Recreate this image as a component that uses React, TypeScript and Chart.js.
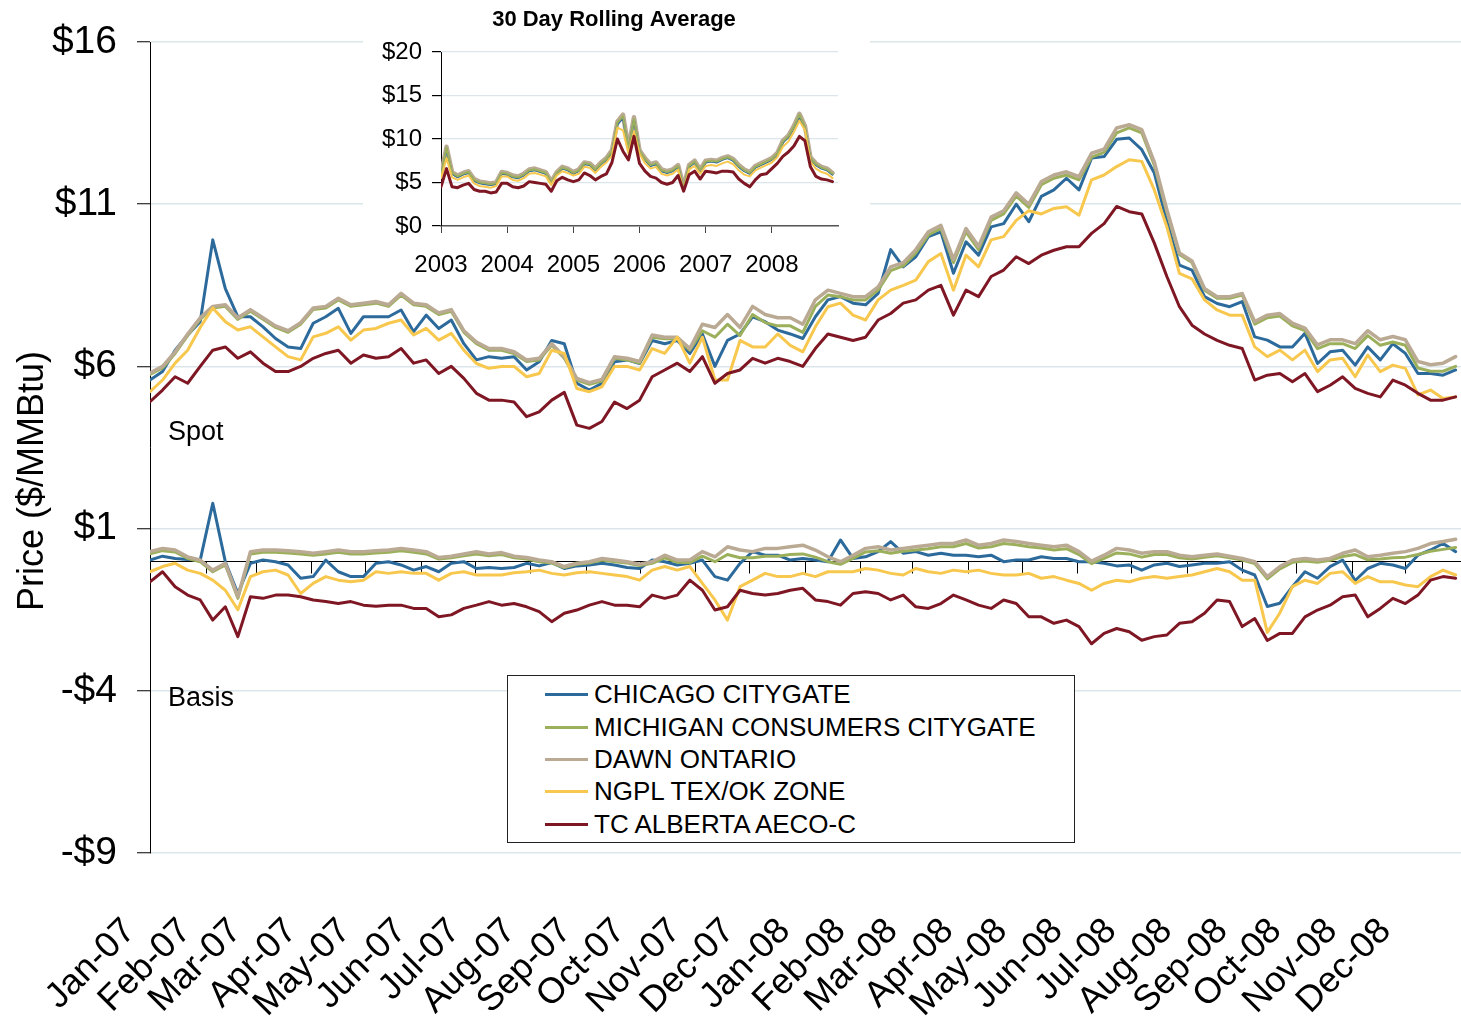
import React, { useEffect, useRef } from 'react';
import { Chart, registerables } from 'chart.js';

Chart.register(...registerables);

const FONT = "'Liberation Sans', Arial, Helvetica, sans-serif";
Chart.defaults.font.family = FONT;

// ---------- categories / ticks ----------
const monthLabels = [
  'Jan-07', 'Feb-07', 'Mar-07', 'Apr-07', 'May-07', 'Jun-07', 'Jul-07', 'Aug-07', 'Sep-07', 'Oct-07', 'Nov-07', 'Dec-07',
  'Jan-08', 'Feb-08', 'Mar-08', 'Apr-08', 'May-08', 'Jun-08', 'Jul-08', 'Aug-08', 'Sep-08', 'Oct-08', 'Nov-08', 'Dec-08',
];
// day offsets (from 1 Jan 2007) of each month start
const monthStartDays = [0, 31, 59, 90, 120, 151, 181, 212, 243, 273, 304, 334, 365, 396, 425, 456, 486, 517, 547, 578, 609, 639, 670, 700];
const yTickValues = [-9, -4, 1, 6, 11, 16];
const insetYears = [2003, 2004, 2005, 2006, 2007, 2008];
const insetYTicks = [0, 5, 10, 15, 20];

const seriesNames = ['CHICAGO CITYGATE', 'MICHIGAN CONSUMERS CITYGATE', 'DAWN ONTARIO', 'NGPL TEX/OK ZONE', 'TC ALBERTA AECO-C'];
const seriesColors = ['#2C6A9C', '#9CB05C', '#BAAA94', '#F8C84E', '#7E1723'];

// weekly sample dates (days since 1 Jan 2007)
const weekDays = Array.from({ length: 105 }, (_, i) => i * 7);
// monthly sample dates for the inset (fractional years)
const insetMonths = Array.from({ length: 72 }, (_, i) => 2003 + i / 12);

// ---------- spot prices ($/MMBtu), weekly ----------
const chicagoSpot = [
  5.58, 5.84, 6.5, 6.97, 7.38, 9.9, 8.4, 7.53, 7.53, 7.22,
  6.86, 6.6, 6.55, 7.33, 7.53, 7.79, 7.02, 7.53, 7.53, 7.53,
  7.74, 7.07, 7.58, 7.17, 7.43, 6.7, 6.2, 6.3, 6.25, 6.3,
  5.89, 6.14, 6.8, 6.7, 5.48, 5.27, 5.48, 6.14, 6.2, 6.09,
  6.8, 6.7, 6.8, 6.4, 7.0, 6.0, 6.8, 7.0, 7.53, 7.38,
  7.12, 7.0, 6.86, 7.53, 8.05, 8.15, 7.95, 7.9, 8.25, 9.6,
  9.07, 9.38, 10.0, 10.15, 8.87, 9.84, 9.43, 10.3, 10.4, 11.0,
  10.46, 11.24, 11.44, 11.8, 11.44, 12.42, 12.47, 13.0, 13.04, 12.68,
  11.96, 10.46, 9.12, 8.97, 8.15, 7.94, 7.84, 8.0, 6.91, 6.81,
  6.6, 6.6, 7.02, 6.09, 6.45, 6.5, 6.04, 6.6, 6.2, 6.7,
  6.4, 5.78, 5.78, 5.73, 5.89,
];
const michiganSpot = [
  5.75, 5.95, 6.4, 6.95, 7.45, 7.8, 7.85, 7.45, 7.7, 7.45,
  7.2, 7.05, 7.3, 7.75, 7.8, 8.05, 7.85, 7.9, 7.95, 7.85,
  8.2, 7.9, 7.85, 7.6, 7.7, 7.05, 6.7, 6.5, 6.5, 6.4,
  6.15, 6.2, 6.65, 6.25, 5.58, 5.45, 5.55, 6.25, 6.2, 6.1,
  6.9, 6.85, 6.85, 6.5, 7.1, 6.9, 7.3, 6.95, 7.6, 7.35,
  7.25, 7.25, 7.05, 7.85, 8.2, 8.15, 8.05, 8.05, 8.35, 8.95,
  9.1, 9.5, 10.05, 10.25, 9.2, 10.15, 9.6, 10.5, 10.7, 11.25,
  10.9, 11.6, 11.8, 11.9, 11.75, 12.45, 12.6, 13.2, 13.35, 13.2,
  12.2, 10.75, 9.45, 9.2, 8.35, 8.1, 8.1, 8.2, 7.3, 7.5,
  7.55, 7.25, 7.1, 6.55, 6.7, 6.7, 6.55, 6.95, 6.65, 6.75,
  6.65, 5.95, 5.85, 5.85, 6.0,
];
const dawnSpot = [
  5.8, 6.0, 6.45, 7.0, 7.5, 7.85, 7.9, 7.5, 7.75, 7.5,
  7.25, 7.1, 7.35, 7.8, 7.85, 8.1, 7.9, 7.95, 8.0, 7.9,
  8.25, 7.95, 7.9, 7.65, 7.75, 7.1, 6.75, 6.55, 6.55, 6.45,
  6.2, 6.25, 6.7, 6.3, 5.63, 5.5, 5.6, 6.3, 6.25, 6.15,
  6.97, 6.9, 6.9, 6.55, 7.3, 7.2, 7.6, 7.2, 7.85, 7.6,
  7.5, 7.5, 7.3, 8.05, 8.35, 8.25, 8.15, 8.15, 8.45, 9.07,
  9.2, 9.6, 10.15, 10.35, 9.3, 10.25, 9.7, 10.6, 10.8, 11.35,
  11.0, 11.7, 11.9, 12.0, 11.85, 12.57, 12.7, 13.35, 13.45, 13.3,
  12.3, 10.83, 9.5, 9.25, 8.4, 8.15, 8.15, 8.25, 7.38, 7.58,
  7.63, 7.33, 7.18, 6.66, 6.82, 6.82, 6.7, 7.1, 6.82, 6.92,
  6.82, 6.15, 6.05, 6.1, 6.3,
];
const ngplSpot = [
  5.22, 5.58, 6.1, 6.5, 7.2, 7.8, 7.38, 7.12, 7.22, 6.91,
  6.6, 6.3, 6.2, 6.91, 7.02, 7.22, 6.81, 7.12, 7.17, 7.33,
  7.43, 6.97, 7.17, 6.81, 7.02, 6.5, 6.09, 5.94, 6.0, 6.0,
  5.68, 5.78, 6.5, 6.4, 5.32, 5.22, 5.37, 6.0, 6.0, 5.89,
  6.55, 6.4, 6.9, 6.1, 6.9, 5.58, 5.58, 6.8, 6.6, 6.6,
  7.0, 6.65, 6.45, 7.22, 7.84, 7.95, 7.58, 7.43, 8.05, 8.35,
  8.5, 8.66, 9.23, 9.48, 8.35, 9.43, 9.07, 9.9, 10.0, 10.5,
  10.8, 10.7, 10.87, 10.92, 10.66, 11.75, 11.9, 12.16, 12.37, 12.32,
  11.44, 10.3, 8.87, 8.7, 8.05, 7.74, 7.58, 7.58, 6.6, 6.3,
  6.5, 6.2, 6.5, 5.84, 6.2, 6.25, 5.68, 6.35, 5.84, 6.04,
  5.94, 5.12, 5.27, 5.01, 5.06,
];
const albertaSpot = [
  4.91, 5.27, 5.68, 5.48, 6.0, 6.5, 6.6, 6.25, 6.45, 6.1,
  5.84, 5.84, 6.0, 6.25, 6.4, 6.5, 6.1, 6.35, 6.25, 6.3,
  6.55, 6.1, 6.2, 5.78, 6.0, 5.63, 5.17, 4.96, 4.96, 4.9,
  4.45, 4.6, 4.96, 5.2, 4.19, 4.09, 4.3, 4.9, 4.7, 4.96,
  5.68, 5.89, 6.1, 5.84, 6.3, 5.48, 5.78, 5.89, 6.25, 6.1,
  6.25, 6.15, 6.0, 6.55, 7.0, 6.9, 6.8, 6.9, 7.43, 7.63,
  7.95, 8.05, 8.35, 8.5, 7.58, 8.35, 8.15, 8.77, 8.97, 9.38,
  9.17, 9.43, 9.58, 9.69, 9.69, 10.1, 10.4, 10.93, 10.77, 10.7,
  9.8, 8.77, 7.84, 7.27, 7.0, 6.8, 6.65, 6.55, 5.58, 5.73,
  5.78, 5.53, 5.78, 5.22, 5.42, 5.68, 5.32, 5.17, 5.06, 5.58,
  5.42, 5.17, 4.96, 4.96, 5.06,
];

// ---------- basis ($/MMBtu), weekly ----------
const chicagoBasis = [
  0.03, 0.15, 0.08, 0.05, 0.03, 1.78, -0.02, -1.0, -0.07, 0.03,
  -0.02, -0.12, -0.53, -0.48, 0.03, -0.33, -0.48, -0.48, -0.07, -0.02,
  -0.12, -0.28, -0.17, -0.33, -0.07, -0.02, -0.23, -0.2, -0.23, -0.2,
  -0.07, -0.15, -0.05, -0.23, -0.15, -0.12, -0.07, -0.12, -0.2, -0.23,
  0.03, -0.02, -0.12, -0.07, 0.03, -0.48, -0.59, -0.07, 0.29, 0.18,
  0.18, 0.03, 0.08, 0.03, -0.02, 0.65, 0.08, 0.13, 0.29, 0.6,
  0.24, 0.29, 0.18, 0.24, 0.18, 0.18, 0.13, 0.18, -0.02, 0.03,
  0.03, 0.13, 0.08, 0.08, -0.02, -0.02, -0.07, -0.15, -0.12, -0.28,
  -0.12, -0.07, -0.17, -0.12, -0.07, -0.07, -0.02, -0.28, -0.43, -1.4,
  -1.3, -0.79, -0.33, -0.53, -0.17, 0.03, -0.6, -0.23, -0.07, -0.12,
  -0.23, 0.18, 0.34, 0.54, 0.29,
];
const michiganBasis = [
  0.22, 0.32, 0.28, 0.08, -0.02, -0.33, -0.12, -1.15, 0.22, 0.27,
  0.27, 0.25, 0.22, 0.18, 0.22, 0.27, 0.22, 0.22, 0.25, 0.27,
  0.32, 0.27, 0.22, 0.06, 0.1, 0.16, 0.22, 0.16, 0.2, 0.1,
  0.06, -0.02, -0.06, -0.2, -0.1, -0.06, 0.03, -0.02, -0.06, -0.14,
  -0.07, 0.1, -0.04, -0.05, 0.15, -0.02, 0.2, 0.1, 0.1, 0.15,
  0.15, 0.2, 0.22, 0.12, -0.02, -0.1, 0.08, 0.28, 0.32, 0.24,
  0.3, 0.34, 0.38, 0.44, 0.44, 0.54, 0.4, 0.44, 0.54, 0.5,
  0.44, 0.4, 0.34, 0.38, 0.2, -0.08, 0.08, 0.25, 0.22, 0.12,
  0.2, 0.2, 0.1, 0.06, 0.12, 0.16, 0.1, 0.03, -0.08, -0.55,
  -0.24, -0.04, 0.0, -0.04, 0.02, 0.14, 0.2, 0.04, 0.06, 0.1,
  0.12, 0.2, 0.3, 0.36, 0.42,
];
const dawnBasis = [
  0.29, 0.39, 0.34, 0.13, 0.03, -0.28, -0.07, -1.1, 0.29, 0.34,
  0.34, 0.32, 0.29, 0.24, 0.29, 0.34, 0.29, 0.29, 0.32, 0.34,
  0.39, 0.34, 0.29, 0.11, 0.15, 0.22, 0.29, 0.22, 0.26, 0.15,
  0.11, 0.03, -0.02, -0.17, -0.07, -0.02, 0.08, 0.03, -0.02, -0.1,
  -0.02, 0.18, 0.03, 0.03, 0.29, 0.13, 0.44, 0.34, 0.29, 0.39,
  0.39, 0.44, 0.49, 0.34, 0.13, -0.02, 0.18, 0.39, 0.44, 0.34,
  0.39, 0.44, 0.49, 0.54, 0.54, 0.65, 0.49, 0.54, 0.65, 0.6,
  0.54, 0.49, 0.44, 0.49, 0.29, 0.0, 0.18, 0.39, 0.34, 0.24,
  0.29, 0.29, 0.18, 0.13, 0.18, 0.22, 0.15, 0.08, -0.02, -0.48,
  -0.17, 0.03, 0.08, 0.03, 0.08, 0.24, 0.34, 0.13, 0.18, 0.24,
  0.29, 0.39, 0.54, 0.6, 0.67,
];
const ngplBasis = [
  -0.33, -0.17, -0.07, -0.28, -0.38, -0.59, -0.9, -1.5, -0.48, -0.33,
  -0.28, -0.43, -1.0, -0.69, -0.48, -0.59, -0.64, -0.59, -0.33, -0.38,
  -0.33, -0.38, -0.38, -0.59, -0.38, -0.33, -0.43, -0.43, -0.43, -0.36,
  -0.33, -0.28, -0.38, -0.43, -0.36, -0.33, -0.38, -0.43, -0.48, -0.59,
  -0.28, -0.17, -0.28, -0.17, -0.69, -1.2, -1.82, -0.79, -0.59, -0.38,
  -0.48, -0.48, -0.38, -0.48, -0.33, -0.33, -0.33, -0.23, -0.28, -0.38,
  -0.43, -0.23, -0.33, -0.38, -0.28, -0.33, -0.28, -0.38, -0.43, -0.43,
  -0.38, -0.53, -0.48, -0.59, -0.69, -0.9, -0.69, -0.59, -0.64, -0.53,
  -0.48, -0.53, -0.48, -0.43, -0.33, -0.23, -0.33, -0.59, -0.59, -2.2,
  -1.6, -0.79, -0.59, -0.69, -0.38, -0.33, -0.69, -0.48, -0.64, -0.64,
  -0.74, -0.79, -0.48, -0.28, -0.43,
];
const albertaBasis = [
  -0.64, -0.33, -0.79, -1.05, -1.2, -1.82, -1.41, -2.33, -1.1, -1.15,
  -1.05, -1.05, -1.1, -1.2, -1.25, -1.31, -1.25, -1.36, -1.39, -1.36,
  -1.36, -1.46, -1.46, -1.72, -1.66, -1.46, -1.36, -1.25, -1.36, -1.31,
  -1.41, -1.56, -1.87, -1.61, -1.51, -1.36, -1.25, -1.36, -1.36, -1.41,
  -1.05, -1.15, -1.05, -0.59, -0.9, -1.51, -1.41, -0.9, -1.0, -1.05,
  -1.0, -0.9, -0.84, -1.2, -1.25, -1.36, -1.0, -0.95, -1.0, -1.2,
  -1.05, -1.41, -1.46, -1.31, -1.05, -1.2, -1.36, -1.46, -1.2, -1.31,
  -1.72, -1.72, -1.92, -1.82, -2.02, -2.55, -2.23, -2.08, -2.18, -2.44,
  -2.33, -2.28, -1.92, -1.87, -1.61, -1.2, -1.25, -2.02, -1.77, -2.45,
  -2.23, -2.23, -1.72, -1.51, -1.36, -1.1, -1.05, -1.72, -1.46, -1.15,
  -1.31, -1.05, -0.59, -0.48, -0.53,
];

// ---------- inset: 30 day rolling average, monthly 2003-2008 ----------
const chicagoAvg = [
  5.7, 8.8, 6.0, 5.6, 5.9, 6.1, 5.2, 4.9, 4.8, 4.7, 4.8, 6.0,
  5.9, 5.6, 5.5, 5.8, 6.3, 6.4, 6.2, 6.0, 4.9, 6.0, 6.6, 6.4,
  6.0, 6.3, 7.1, 7.0, 6.4, 7.1, 7.6, 8.5, 11.7, 12.4, 8.8, 12.2,
  8.5, 7.6, 6.9, 7.1, 6.3, 6.1, 6.3, 6.8, 4.3, 6.8, 7.3, 6.3,
  7.3, 7.4, 7.3, 7.6, 7.8, 7.5, 6.8, 6.3, 6.0, 6.7, 7.0, 7.3,
  7.6, 8.2, 9.6, 10.2, 11.3, 12.6, 11.2, 7.7, 7.0, 6.6, 6.4, 5.9,
];
const michiganAvg = [
  5.8, 9.0, 6.1, 5.7, 6.0, 6.2, 5.3, 5.0, 4.9, 4.8, 4.9, 6.1,
  6.0, 5.7, 5.6, 5.9, 6.4, 6.5, 6.3, 6.1, 5.0, 6.1, 6.7, 6.5,
  6.1, 6.4, 7.2, 7.1, 6.5, 7.2, 7.7, 8.6, 11.9, 12.6, 8.9, 12.3,
  8.6, 7.7, 7.0, 7.2, 6.4, 6.2, 6.4, 6.9, 4.4, 6.9, 7.4, 6.4,
  7.4, 7.5, 7.4, 7.7, 7.9, 7.6, 6.9, 6.4, 6.1, 6.8, 7.1, 7.4,
  7.7, 8.3, 9.7, 10.3, 11.4, 12.8, 11.4, 7.8, 7.1, 6.7, 6.5, 6.0,
];
const dawnAvg = [
  5.9, 9.1, 6.2, 5.8, 6.1, 6.3, 5.4, 5.1, 5.0, 4.9, 5.0, 6.2,
  6.1, 5.8, 5.7, 6.0, 6.5, 6.6, 6.4, 6.2, 5.1, 6.2, 6.8, 6.6,
  6.2, 6.5, 7.3, 7.2, 6.6, 7.3, 7.8, 8.7, 12.0, 12.8, 9.0, 12.5,
  8.7, 7.8, 7.1, 7.3, 6.5, 6.3, 6.5, 7.0, 4.5, 7.0, 7.5, 6.5,
  7.5, 7.6, 7.5, 7.8, 8.0, 7.7, 7.0, 6.5, 6.2, 6.9, 7.2, 7.5,
  7.8, 8.4, 9.8, 10.4, 11.5, 12.9, 11.5, 7.9, 7.2, 6.8, 6.6, 6.1,
];
const ngplAvg = [
  5.5, 7.8, 5.6, 5.3, 5.6, 5.8, 4.9, 4.6, 4.5, 4.4, 4.6, 5.7,
  5.7, 5.3, 5.2, 5.5, 6.0, 6.1, 5.9, 5.7, 4.7, 5.8, 6.3, 6.1,
  5.8, 6.0, 6.8, 6.7, 6.1, 6.8, 7.3, 8.1, 11.3, 11.0, 8.3, 10.9,
  8.3, 7.2, 6.6, 6.8, 6.0, 5.8, 6.0, 6.5, 4.1, 6.5, 6.9, 6.0,
  6.9, 7.0, 6.9, 7.2, 7.4, 7.1, 6.4, 5.9, 5.7, 6.4, 6.7, 7.0,
  7.3, 7.9, 9.1, 9.7, 10.8, 12.1, 11.0, 7.4, 6.6, 6.2, 6.0, 5.5,
];
const albertaAvg = [
  4.5, 6.6, 4.5, 4.4, 4.7, 4.9, 4.2, 4.0, 4.0, 3.8, 3.9, 4.9,
  4.9, 4.5, 4.4, 4.6, 5.1, 5.0, 4.9, 4.8, 4.0, 5.2, 5.6, 5.3,
  5.1, 5.3, 6.1, 5.8, 5.3, 5.7, 6.0, 7.3, 10.0, 8.6, 7.6, 10.3,
  7.2, 6.3, 5.7, 5.5, 5.0, 4.8, 5.0, 5.8, 4.0, 5.9, 6.3, 5.4,
  6.3, 6.2, 6.1, 6.3, 6.3, 6.2, 5.4, 4.9, 4.5, 5.3, 5.9, 6.0,
  6.6, 7.2, 8.0, 8.5, 9.2, 10.3, 9.8, 6.8, 5.7, 5.4, 5.3, 5.1,
];

const spotSeries = [chicagoSpot, michiganSpot, dawnSpot, ngplSpot, albertaSpot];
const basisSeries = [chicagoBasis, michiganBasis, dawnBasis, ngplBasis, albertaBasis];
const avgSeries = [chicagoAvg, michiganAvg, dawnAvg, ngplAvg, albertaAvg];

const mainWidths = [3, 3, 3.5, 3, 3];
const insetWidths = [2, 2, 4.5, 2, 3];
const drawOrder = [5, 4, 3, 2, 1];
const insetOrder = [4, 3, 5, 2, 1];

const mainDecor = {
  id: 'mainDecor',
  beforeDatasetsDraw(chart: any) {
    const { ctx, chartArea, scales } = chart;
    const y0 = Math.round(scales.y.getPixelForValue(0)) + 0.5;
    ctx.save();
    ctx.strokeStyle = '#000';
    ctx.lineWidth = 1;
    ctx.beginPath();
    ctx.moveTo(chartArea.left, y0);
    ctx.lineTo(chartArea.right, y0);
    monthStartDays.forEach((d) => {
      const x = Math.round(scales.x.getPixelForValue(d)) + 0.5;
      ctx.moveTo(x, y0);
      ctx.lineTo(x, y0 + 12);
    });
    ctx.stroke();
    ctx.restore();
  },
  afterDraw(chart: any) {
    const { ctx } = chart;
    ctx.save();
    ctx.fillStyle = '#000';
    ctx.font = `27px ${FONT}`;
    ctx.textAlign = 'left';
    ctx.textBaseline = 'alphabetic';
    ctx.fillText('Spot', 168, 440);
    ctx.fillText('Basis', 168, 706);
    ctx.translate(33, 481);
    ctx.rotate(-Math.PI / 2);
    ctx.font = `36px ${FONT}`;
    ctx.textAlign = 'center';
    ctx.textBaseline = 'middle';
    ctx.fillText('Price ($/MMBtu)', 0, 0);
    ctx.restore();
  },
};

const insetDecor = {
  id: 'insetDecor',
  afterDraw(chart: any) {
    const { ctx } = chart;
    ctx.save();
    ctx.fillStyle = '#000';
    ctx.font = `bold 22px ${FONT}`;
    ctx.textAlign = 'center';
    ctx.textBaseline = 'middle';
    ctx.fillText('30 Day Rolling Average', 251, 20);
    ctx.restore();
  },
};

export default function App() {
  const mainRef = useRef<HTMLCanvasElement>(null);
  const insetRef = useRef<HTMLCanvasElement>(null);

  useEffect(() => {
    document.body.style.margin = '0';
    const spotSets = spotSeries.map((arr, s) => ({
      label: seriesNames[s] + ' spot',
      data: weekDays.map((d, i) => ({ x: d, y: arr[i] })),
      borderColor: seriesColors[s],
      borderWidth: mainWidths[s],
      order: drawOrder[s],
    }));
    const basisSets = basisSeries.map((arr, s) => ({
      label: seriesNames[s] + ' basis',
      data: weekDays.map((d, i) => ({ x: d, y: arr[i] })),
      borderColor: seriesColors[s],
      borderWidth: mainWidths[s],
      order: drawOrder[s],
    }));

    const main = new Chart(mainRef.current as HTMLCanvasElement, {
      type: 'line',
      data: { datasets: [...spotSets, ...basisSets] as any },
      options: {
        responsive: false,
        animation: false,
        devicePixelRatio: 1,
        layout: { padding: { top: 42, left: 0, right: 0, bottom: 0 } },
        plugins: { legend: { display: false }, tooltip: { enabled: false } },
        elements: {
          point: { radius: 0 },
          line: { tension: 0, borderJoinStyle: 'round', borderCapStyle: 'round', fill: false },
        },
        scales: {
          x: {
            type: 'linear',
            min: 0,
            max: 731,
            grid: { display: false, drawTicks: false },
            border: { display: false },
            afterBuildTicks: (s: any) => {
              s.ticks = monthStartDays.map((v) => ({ value: v }));
            },
            afterFit: (s: any) => {
              s.height = 163;
              s.paddingLeft = 0;
              s.paddingRight = 0;
            },
            ticks: {
              autoSkip: false,
              minRotation: 45,
              maxRotation: 45,
              padding: 57,
              labelOffset: -20,
              color: '#000',
              font: { family: FONT, size: 36 },
              callback: (_v: any, i: number) => monthLabels[i],
            },
          },
          y: {
            type: 'linear',
            min: -9,
            max: 16,
            afterBuildTicks: (s: any) => {
              s.ticks = yTickValues.map((v) => ({ value: v }));
            },
            afterFit: (s: any) => {
              s.width = 150;
              s.paddingTop = 0;
              s.paddingBottom = 0;
            },
            grid: { color: '#dbe5ea', lineWidth: 1.5, tickColor: '#000', tickLength: 13, tickWidth: 1 },
            border: { color: '#000', width: 1 },
            ticks: {
              padding: 20,
              color: '#000',
              font: { family: FONT, size: 39 },
              callback: (v: any) => (Number(v) < 0 ? '-$' : '$') + Math.abs(Number(v)),
            },
          },
        },
      } as any,
      plugins: [mainDecor],
    });

    const insetSets = avgSeries.map((arr, s) => ({
      label: seriesNames[s],
      data: insetMonths.map((m, i) => ({ x: m, y: arr[i] })),
      borderColor: seriesColors[s],
      borderWidth: insetWidths[s],
      order: insetOrder[s],
    }));

    const inset = new Chart(insetRef.current as HTMLCanvasElement, {
      type: 'line',
      data: { datasets: insetSets as any },
      options: {
        responsive: false,
        animation: false,
        devicePixelRatio: 1,
        layout: { padding: { top: 52, left: 0, right: 32, bottom: 0 } },
        plugins: { legend: { display: false }, tooltip: { enabled: false } },
        elements: {
          point: { radius: 0 },
          line: { tension: 0, borderJoinStyle: 'round', borderCapStyle: 'round', fill: false },
        },
        scales: {
          x: {
            type: 'linear',
            min: 2003,
            max: 2009,
            afterBuildTicks: (s: any) => {
              s.ticks = insetYears.map((v) => ({ value: v }));
            },
            afterFit: (s: any) => {
              s.height = 59;
              s.paddingLeft = 0;
              s.paddingRight = 0;
            },
            grid: { drawOnChartArea: false, tickLength: 7, tickColor: '#444', color: '#444' },
            border: { color: '#555', width: 1.5 },
            ticks: {
              autoSkip: false,
              maxRotation: 0,
              minRotation: 0,
              padding: 18,
              color: '#000',
              font: { family: FONT, size: 24 },
              callback: (v: any) => String(v),
            },
          },
          y: {
            type: 'linear',
            min: 0,
            max: 20,
            afterBuildTicks: (s: any) => {
              s.ticks = insetYTicks.map((v) => ({ value: v }));
            },
            afterFit: (s: any) => {
              s.width = 78;
              s.paddingTop = 0;
              s.paddingBottom = 0;
            },
            grid: { color: '#dbe5ea', lineWidth: 1.2, tickColor: '#000', tickLength: 9 },
            border: { color: '#000', width: 1 },
            ticks: {
              padding: 10,
              color: '#000',
              font: { family: FONT, size: 24 },
              callback: (v: any) => '$' + v,
            },
          },
        },
      } as any,
      plugins: [insetDecor],
    });

    return () => {
      main.destroy();
      inset.destroy();
    };
  }, []);

  const legendTop = [18, 51, 83, 115, 148];

  return (
    <div style={{ position: 'absolute', left: 0, top: 0, width: 1461, height: 1016, background: '#fff', overflow: 'hidden' }}>
      <canvas ref={mainRef} width={1461} height={1016} style={{ position: 'absolute', left: 0, top: 0 }} />
      <canvas
        ref={insetRef}
        width={507}
        height={285}
        style={{ position: 'absolute', left: 363, top: 0, background: '#fff' }}
      />
      <div
        style={{
          position: 'absolute',
          left: 507,
          top: 675,
          width: 568,
          height: 168,
          border: '1px solid #222',
          boxSizing: 'border-box',
          background: '#fff',
          fontFamily: FONT,
          fontSize: 26,
          color: '#000',
        }}
      >
        {seriesNames.map((name, i) => (
          <div
            key={name}
            style={{ position: 'absolute', left: 0, top: legendTop[i] - 16, height: 32, display: 'flex', alignItems: 'center', whiteSpace: 'nowrap' }}
          >
            <span style={{ display: 'inline-block', marginLeft: 37, width: 43, height: 3, background: seriesColors[i] }} />
            <span style={{ marginLeft: 6, lineHeight: '32px' }}>{name}</span>
          </div>
        ))}
      </div>
    </div>
  );
}
